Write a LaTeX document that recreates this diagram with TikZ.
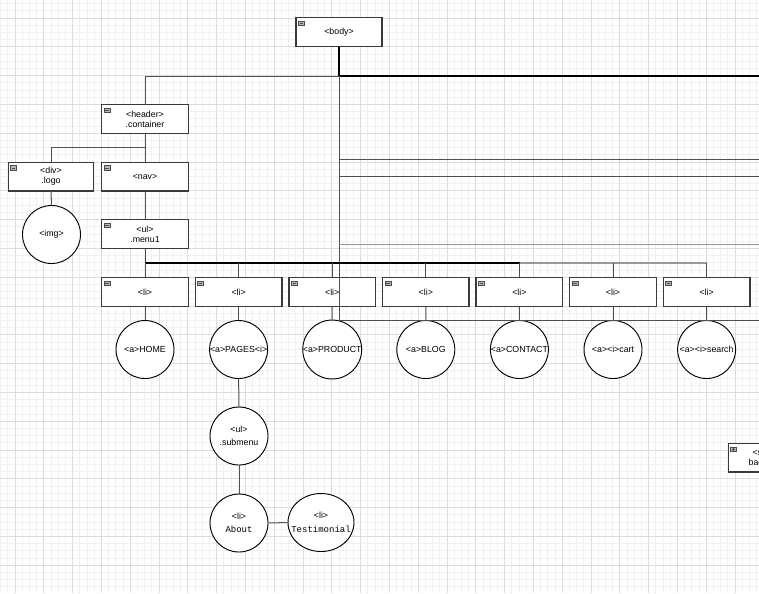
\documentclass[tikz,border=0pt]{standalone}
\usepackage{fontspec}
\setmainfont{Liberation Sans}
\newfontfamily\monof{Liberation Mono}
\usetikzlibrary{shapes.geometric}
\definecolor{boxc}{HTML}{3A3A3A}
\definecolor{linec}{HTML}{505050}
\definecolor{gridmaj}{HTML}{DCDCDC}
\definecolor{gridmin}{HTML}{F1F1F1}
\definecolor{iconf}{HTML}{B8B8B8}
\begin{document}
\begin{tikzpicture}[x=0.75pt,y=-0.75pt,
  box/.style={draw=boxc, line width=1pt, fill=white, minimum width=65pt, minimum height=21.5pt, inner sep=0pt, align=center, font=\fontsize{6.6}{7.5}\selectfont},
  circ/.style={circle, draw=black, line width=0.7pt, fill=white, minimum size=43.5pt, inner sep=0pt, align=center, font=\fontsize{6.6}{9.3}\selectfont},
  thinl/.style={draw=linec, line width=0.75pt},
  thickl/.style={draw=black, line width=1.5pt},
  grayl/.style={draw=gray!80, line width=1.1pt},
  icon/.style={draw=gray!60!black, fill=iconf, line width=0.4pt}
]
\clip (0,0) rectangle (759,593);
\fill[white] (0,0) rectangle (759,593);
% grid
\foreach \i in {0,...,105} {\draw[gridmin, line width=0.5pt] ({0.6+7.2*\i},0) -- ({0.6+7.2*\i},593);}
\foreach \i in {0,...,82} {\draw[gridmin, line width=0.5pt] (0,{3.6+7.2*\i}) -- (759,{3.6+7.2*\i});}
\foreach \i in {0,...,25} {\draw[gridmaj, line width=0.7pt] ({15+28.8*\i},0) -- ({15+28.8*\i},593);}
\foreach \i in {0,...,19} {\draw[gridmaj, line width=0.7pt] (0,{18+28.8*\i}) -- (759,{18+28.8*\i});}

% boxes
\node[box, minimum width=64.5pt] (body) at (339,32) {<body>};
\node[box] (header) at (145,119) {<header>\\.container};
\node[box] (nav) at (145,176.7) {<nav>};
\node[box] (ul) at (145,234) {<ul>\\.menu1};
\node[box, minimum width=64pt] (logo) at (51,176.5) {<div>\\.logo};
\node[box] (sect) at (771.6,457.8) {<section>\\background};
\foreach \i in {1,...,7} {
  \node[box] (li\i) at ({145+93.6*(\i-1)},292) {<li>};
}
% circles
\node[circ] (img) at (51.5,234.5) {<img>};
\node[circ] (a1) at (145,349.5) {<a>HOME};
\node[circ] (a2) at (238.6,349.5) {<a>PAGES<i>};
\node[circ] (a3) at (332.2,349.5) {<a>PRODUCT};
\node[circ] (a4) at (425.8,349.5) {<a>BLOG};
\node[circ] (a5) at (519.4,349.5) {<a>CONTACT};
\node[circ] (a6) at (613,349.5) {<a><i>cart};
\node[circ] (a7) at (706.6,349.5) {<a><i>search};
\node[circ] (sub) at (239,436) {<ul>\\.submenu};
\node[circ, font=\fontsize{6.6}{10}\selectfont] (about) at (239,523) {<li>\\{\monof\fontsize{6.75}{10}\selectfont About}};
\node[circ, ellipse, inner xsep=-10pt, inner ysep=0pt, minimum width=49.5pt, minimum height=43.5pt, font=\fontsize{6.6}{10}\selectfont] (test) at (321,522.5) {<li>\\{\monof\fontsize{6.75}{10}\selectfont Testimonial}};

% icons
\foreach \n in {body,header,nav,ul,logo,li1,li2,li3,li4,li5,li6,li7} {
  \draw[icon] ([xshift=2.3pt,yshift=-3pt]\n.north west) rectangle ++(4.5pt,-3.4pt);
  \draw[black!70, line width=0.4pt] ([xshift=3.3pt,yshift=-4.7pt]\n.north west) -- ++(2.5pt,0);
}
\draw[icon] ([xshift=2.3pt,yshift=-3pt]sect.north west) rectangle ++(4.5pt,-3.4pt);
\draw[black!70, line width=0.4pt] ([xshift=3.3pt,yshift=-4.7pt]sect.north west) -- ++(2.5pt,0);
\draw[black!70, line width=0.4pt] ([xshift=4.55pt,yshift=-3.5pt]sect.north west) -- ++(0,-2.4pt);

% coordinates
\coordinate (j1) at (339,76);
\coordinate (e1) at (759,76);
\coordinate (j2) at (339,320.5);
\coordinate (e2) at (759,320.5);
\coordinate (t1) at (339,159);
\coordinate (f1) at (759,159);
\coordinate (t2) at (339,176.3);
\coordinate (f2) at (759,176.3);
\coordinate (t3) at (339,244.3);
\coordinate (f3) at (759,244.3);
\coordinate (j3) at (145,147);
\coordinate (bus0) at (145,263);
\coordinate (busm) at (520,263);
\coordinate (bus1) at (706.6,263);

% connectors
\draw[thickl] (body.south) -- (j1);
\draw[thickl] (j1) -- (e1);
\draw[thinl] (j1) -| (header.north);
\draw[thinl] (j1) -- (j2) -- (e2);
\draw[thinl] (t1) -- (f1);
\draw[thinl] (t2) -- (f2);
\draw[grayl] (t3) -- (f3);
\draw[thinl] (header.south) -- (nav.north);
\draw[thinl] (j3) -| (logo.north);
\draw[thinl] (logo.south) -- (img.north);
\draw[thinl] (nav.south) -- (ul.north);
\draw[thinl] (ul.south) -- (bus0);
\draw[thickl] (bus0) -- (busm);
\draw[grayl] (busm) -- (bus1);
\foreach \i in {1,...,7} {
  \draw[thinl] (li\i.north |- bus0) -- (li\i.north);
  \draw[thinl] (li\i.south) -- (a\i.north);
}
\draw[thinl] (a2.south) -- (sub.north);
\draw[thinl] (sub.south) -- (about.north);
\draw[thinl] (about.east) -- (test.west);
\end{tikzpicture}
\end{document}
